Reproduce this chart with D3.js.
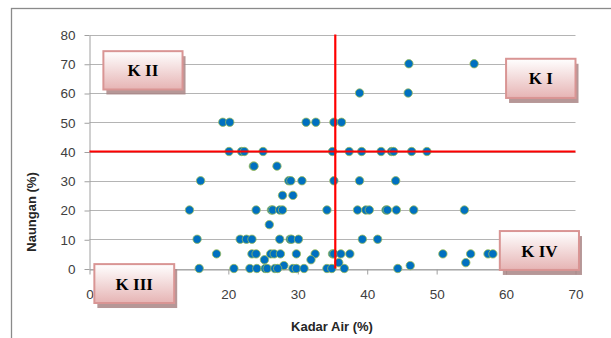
<!DOCTYPE html>
<html>
<head>
<meta charset="utf-8">
<script src="https://cdn.jsdelivr.net/npm/d3@7"></script>
<style>
  body { margin: 0; background: #fff; }
  svg { display: block; }
</style>
</head>
<body id="chart">
<script>
// Kadar Air (%) vs Naungan (%) - one entry per plotted point
const kadarAir = [
  46.0, 55.4,
  38.9, 45.9,
  19.2, 20.2, 31.2, 32.6, 35.2, 36.3,
  20.1, 21.9, 22.3, 25.0, 35.0, 37.4, 39.2, 42.0, 43.5, 43.8, 46.4, 48.6,
  23.6, 23.7, 27.0,
  16.0, 28.7, 29.0, 30.6, 35.2, 38.9, 44.1,
  27.8, 29.3,
  14.4, 24.0, 26.2, 26.4, 27.4, 27.8, 34.2, 38.6, 39.8, 40.3, 42.7, 42.9, 44.2, 46.7, 54.0,
  25.9,
  15.5, 21.7, 22.6, 23.4, 27.4, 28.9, 29.1, 30.1, 39.3, 41.5,
  18.3, 23.4, 24.0, 26.1, 26.6, 27.5, 29.8, 32.5, 35.0, 35.2, 36.2, 37.5, 50.9, 54.9, 57.4, 58.1,
  25.2, 31.9,
  35.9, 54.2,
  28.0, 46.2,
  15.8, 20.8, 23.1, 24.1, 25.3, 25.6, 26.7, 27.1, 29.3, 29.8, 30.9, 34.2, 34.9, 36.7, 44.4
];
const naungan = [
  70, 70,
  60, 60,
  50, 50, 50, 50, 50, 50,
  40, 40, 40, 40, 40, 40, 40, 40, 40, 40, 40, 40,
  35, 35, 35,
  30, 30, 30, 30, 30, 30, 30,
  25, 25,
  20, 20, 20, 20, 20, 20, 20, 20, 20, 20, 20, 20, 20, 20, 20,
  15,
  10, 10, 10, 10, 10, 10, 10, 10, 10, 10,
  5, 5, 5, 5, 5, 5, 5, 5, 5, 5, 5, 5, 5, 5, 5, 5,
  3, 3,
  2, 2,
  1, 1,
  0, 0, 0, 0, 0, 0, 0, 0, 0, 0, 0, 0, 0, 0, 0
];

const xTicks = [0, 10, 20, 30, 40, 50, 60, 70];
const yTicks = [0, 10, 20, 30, 40, 50, 60, 70, 80];

// quadrant dividers
const batasKadarAir = 35.4;
const batasNaungan = 40;

// quadrant labels: [label, x0, y0 (top-left, data units), x1, y1]
const kuadranLabel = ["K I", "K II", "K III", "K IV"];
const kuadranBox = [
  [60.0, 71.7, 70.0, 58.3],
  [2.0, 74.3, 13.4, 61.2],
  [0.7, 1.5, 12.2, -11.8],
  [59.1, 12.8, 70.5, -0.5]
];

const W = 611, H = 338;

const svg = d3.select("body#chart")
  .append("svg")
  .attr("width", W)
  .attr("height", H);

// outer chart frame
svg.append("rect")
  .attr("x", 11.5).attr("y", 8.5)
  .attr("width", 640).attr("height", 360)
  .attr("fill", "none")
  .attr("stroke", "#8a8a8a")
  .attr("stroke-width", 1.3);

const x = d3.scaleLinear().domain([0, 70]).range([89.5, 575.5]);
const y = d3.scaleLinear().domain([0, 80]).range([268.5, 34.5]);

// horizontal gridlines
svg.append("g")
  .selectAll("line")
  .data(yTicks)
  .enter()
  .append("line")
  .attr("x1", x(0)).attr("x2", x(70))
  .attr("y1", d => Math.round(y(d)) + 0.5)
  .attr("y2", d => Math.round(y(d)) + 0.5)
  .attr("stroke", "#b4b4b4")
  .attr("stroke-width", 1);

// Y axis
const yAxis = svg.append("g")
  .attr("transform", "translate(" + x(0) + ",0.5)")
  .call(d3.axisLeft(y).tickValues(yTicks).tickSize(5).tickSizeOuter(0).tickPadding(9));
yAxis.select(".domain").attr("stroke", "#a0a0a0");
yAxis.selectAll(".tick line").attr("stroke", "#a0a0a0");
yAxis.selectAll("text")
  .style("font-family", "'Liberation Sans', Arial, sans-serif")
  .style("font-size", "13.5px")
  .attr("fill", "#404040");

// X axis
const xAxis = svg.append("g")
  .attr("transform", "translate(0," + (Math.round(y(0)) + 0.5) + ")")
  .call(d3.axisBottom(x).tickValues(xTicks).tickSize(5).tickSizeOuter(0).tickPadding(15));
xAxis.select(".domain").attr("stroke", "#a0a0a0");
xAxis.selectAll(".tick line").attr("stroke", "#a0a0a0");
xAxis.selectAll("text")
  .style("font-family", "'Liberation Sans', Arial, sans-serif")
  .style("font-size", "13.5px")
  .attr("fill", "#404040");

// axis titles
svg.append("text")
  .attr("x", 332).attr("y", 331)
  .attr("text-anchor", "middle")
  .style("font-family", "'Liberation Sans', Arial, sans-serif")
  .style("font-size", "13px")
  .style("font-weight", "bold")
  .attr("fill", "#262626")
  .text("Kadar Air (%)");

svg.append("text")
  .attr("transform", "translate(36,212) rotate(-90)")
  .attr("text-anchor", "middle")
  .style("font-family", "'Liberation Sans', Arial, sans-serif")
  .style("font-size", "13px")
  .style("font-weight", "bold")
  .attr("fill", "#262626")
  .text("Naungan (%)");

// points
svg.append("g")
  .selectAll("circle")
  .data(kadarAir)
  .enter()
  .append("circle")
  .attr("cx", (d, i) => x(d))
  .attr("cy", (d, i) => y(naungan[i]))
  .attr("r", 4.2)
  .attr("fill", "#0070c0")
  .attr("stroke", "#9bbb59")
  .attr("stroke-width", 0.8);

// red quadrant lines
svg.append("line")
  .attr("x1", x(batasKadarAir)).attr("x2", x(batasKadarAir))
  .attr("y1", y(80)).attr("y2", y(0))
  .attr("stroke", "#ff0000")
  .attr("stroke-width", 2.2);
svg.append("line")
  .attr("x1", x(0)).attr("x2", x(70))
  .attr("y1", y(batasNaungan)).attr("y2", y(batasNaungan))
  .attr("stroke", "#ff0000")
  .attr("stroke-width", 2.2);

// gradient for quadrant boxes
const defs = svg.append("defs");
const grad = defs.append("linearGradient")
  .attr("id", "boxGrad")
  .attr("x1", 0).attr("y1", 0).attr("x2", 0).attr("y2", 1);
grad.append("stop").attr("offset", "0%").attr("stop-color", "#ffffff");
grad.append("stop").attr("offset", "100%").attr("stop-color", "#e6b4b4");

const boxes = svg.append("g")
  .selectAll("g")
  .data(kuadranLabel)
  .enter()
  .append("g");

// shadow
boxes.append("rect")
  .attr("x", (d, i) => x(kuadranBox[i][0]) + 3)
  .attr("y", (d, i) => y(kuadranBox[i][1]) + 5)
  .attr("width", (d, i) => x(kuadranBox[i][2]) - x(kuadranBox[i][0]))
  .attr("height", (d, i) => y(kuadranBox[i][3]) - y(kuadranBox[i][1]))
  .attr("fill", "#a98585")
  .attr("opacity", 0.85);

boxes.append("rect")
  .attr("x", (d, i) => x(kuadranBox[i][0]))
  .attr("y", (d, i) => y(kuadranBox[i][1]))
  .attr("width", (d, i) => x(kuadranBox[i][2]) - x(kuadranBox[i][0]))
  .attr("height", (d, i) => y(kuadranBox[i][3]) - y(kuadranBox[i][1]))
  .attr("fill", "url(#boxGrad)")
  .attr("stroke", "#d99594")
  .attr("stroke-width", 2);

boxes.append("text")
  .attr("x", (d, i) => (x(kuadranBox[i][0]) + x(kuadranBox[i][2])) / 2)
  .attr("y", (d, i) => (y(kuadranBox[i][1]) + y(kuadranBox[i][3])) / 2 + 6)
  .attr("text-anchor", "middle")
  .style("font-family", "'Liberation Serif', 'Times New Roman', serif")
  .style("font-size", "17px")
  .style("font-weight", "bold")
  .attr("fill", "#000")
  .text(d => d);
</script>
</body>
</html>
